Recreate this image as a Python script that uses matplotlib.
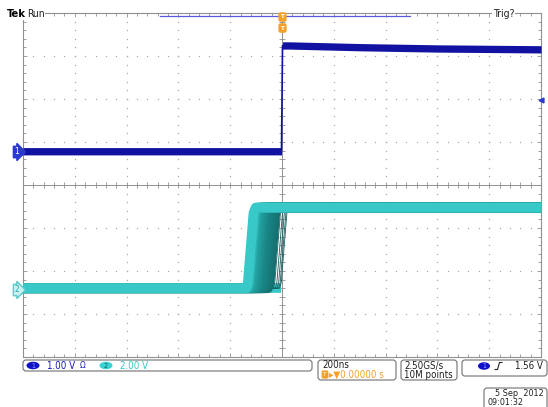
import matplotlib
matplotlib.use("Agg")
import matplotlib.pyplot as plt
from matplotlib.patches import FancyBboxPatch, Ellipse
from matplotlib.colors import LinearSegmentedColormap
import numpy as np

plt.rcParams["font.family"] = ["DejaVu Sans"]
plt.rcParams["font.stretch"] = "condensed"

# ---- 読み取った波形データ ----
# 時間は ns（トリガ位置 = 0）、電圧は V
CH1_T = [-1000, -500, -2, 2, 30, 300, 600, 1000]
CH1_V = [0.0, 0.0, 0.0, 2.46, 2.46, 2.42, 2.39, 2.37]
CH1_VDIV = 1.00      # V/div
CH1_POS = 0.78       # div（グランドマーカー位置）

# CH2 は 1 本分の立ち上がり形状（エッジ開始を 0 とする相対時間）
CH2_SHAPE_T = [-2000, -6, 0, 22, 30, 2000]
CH2_SHAPE_V = [0.0, 0.0, 0.25, 3.5, 3.75, 3.75]
CH2_LOW = 0.0
CH2_VDIV = 2.00
CH2_POS = -2.40
# 残光表示で重なっているエッジの開始時刻（ns）
CH2_EDGES_DENSE = [-132, -126, -120, -114, -108, -102, -96, -90, -84, -78,
                   -72, -66, -60, -54, -48]
CH2_EDGES_SPARSE = [-36, -28, -20, -13, -7, -3]

TIME_DIV = 200  # ns/div

BLUE = "#1212a2"
CYAN = "#38c8c8"
ORANGE = "#f2a12a"
GRID_C = "#a8a8a8"
TXT = "#202020"

fig = plt.figure(figsize=(5.48, 4.07), dpi=100)
W, H = 548, 407
x0, x1, y0, y1 = 23, 541, 13, 357
ax = fig.add_axes([x0 / W, 1 - y1 / H, (x1 - x0) / W, (y1 - y0) / H])
ax.set_xlim(-5 * TIME_DIV, 5 * TIME_DIV)
ax.set_ylim(-4, 4)

# グリッド（点線）と中心十字
xs = np.arange(-5, 5.01, 0.2) * TIME_DIV
ys = np.arange(-4, 4.01, 0.2)
for gx in range(-4, 5):
    if gx != 0:
        ax.plot([gx * TIME_DIV] * len(ys), ys, ls="none", marker="s", ms=0.9,
                color=GRID_C, mew=0)
for gy in range(-3, 4):
    if gy != 0:
        ax.plot(xs, [gy] * len(xs), ls="none", marker="s", ms=0.9,
                color=GRID_C, mew=0)
ax.axhline(0, color="#909090", lw=0.7)
ax.axvline(0, color="#909090", lw=0.7)
ax.plot(xs, [0] * len(xs), ls="none", marker="|", ms=4, mew=0.6, color="#909090")
ax.plot([0] * len(ys), ys, ls="none", marker="_", ms=4, mew=0.6, color="#909090")

ax.set_xticks(np.arange(-5, 5.01, 1) * TIME_DIV)
ax.set_xticks(xs, minor=True)
ax.set_yticks(np.arange(-4, 4.01, 1))
ax.set_yticks(ys, minor=True)
ax.tick_params(which="both", direction="in", top=True, right=True,
               labelbottom=False, labelleft=False, color="#909090", width=0.6)
ax.tick_params(which="major", length=3)
ax.tick_params(which="minor", length=2.5)
for s in ax.spines.values():
    s.set_color("#909090")
    s.set_linewidth(0.8)

# ---- CH1 ----
t1 = np.array(CH1_T, dtype=float)
d1 = np.array(CH1_V) / CH1_VDIV + CH1_POS
ax.fill_between(t1, d1 - 0.08, d1 + 0.09, color=BLUE, lw=0, zorder=5)
ax.plot(t1, d1, color=BLUE, lw=1.2, zorder=5)

# ---- CH2（残光表示） ----
st = np.array(CH2_SHAPE_T, dtype=float)
sv = np.array(CH2_SHAPE_V) / CH2_VDIV + CH2_POS
low_d = CH2_LOW / CH2_VDIV + CH2_POS

# 右側のまばらなエッジ（細線）
for te in CH2_EDGES_SPARSE:
    ax.plot(st + te, sv, color="#1d5f5f", lw=0.6, zorder=4)
# Low レベル帯（最後のエッジまで）
ax.plot([-5 * TIME_DIV, CH2_EDGES_SPARSE[-1]], [low_d, low_d], color=CYAN,
        lw=7, solid_capstyle="butt", zorder=3.5)
# 密なエッジ：右ほど濃い色、左のもの（明るい色）を上に重ねる
cmap = LinearSegmentedColormap.from_list(
    "persist", [(0, CYAN), (0.12, "#24a4a4"), (0.5, "#1a8686"), (1, "#147070")])
n = len(CH2_EDGES_DENSE)
for i in range(n - 1, -1, -1):
    te = CH2_EDGES_DENSE[i]
    ax.plot(st + te, sv, color=cmap(i / (n - 1)), lw=7, zorder=5,
            solid_joinstyle="round", solid_capstyle="butt")

# ---- 画面周りの表示（ピクセル座標のオーバーレイ） ----
ov = fig.add_axes([0, 0, 1, 1])
ov.set_xlim(0, W)
ov.set_ylim(H, 0)
ov.axis("off")
ov.patch.set_alpha(0)

fs = 7
ov.plot([160, 410], [16, 16], color="#5a5ad8", lw=0.9)
ov.text(7, 14, "Tek", fontsize=8, fontweight="bold", va="center", ha="left",
        bbox=dict(fc="white", ec="none", pad=0.5))
ov.text(27, 14, "Run", fontsize=fs + 0.5, va="center", ha="left", color=TXT,
        bbox=dict(fc="white", ec="none", pad=0.5))
ov.text(493, 14, "Trig?", fontsize=fs + 0.5, va="center", ha="left", color=TXT,
        bbox=dict(fc="white", ec="none", pad=0.5))
for yy in (17, 28):
    ov.text(282.5, yy, "T", fontsize=4.5, color="white", ha="center", va="center",
            fontweight="bold",
            bbox=dict(boxstyle="round,pad=0.25", fc=ORANGE, ec=ORANGE))

# チャンネルのグランドマーカー
ov.text(17, 152, "1", fontsize=6, color="white", ha="center", va="center",
        bbox=dict(boxstyle="rarrow,pad=0.15", fc="#2a3ad0", ec="#2a3ad0"))
ov.text(17, 290, "2", fontsize=6, color="#2aa8a8", ha="center", va="center",
        bbox=dict(boxstyle="rarrow,pad=0.15", fc="#c8f2f2", ec="#5cc8c8"))
ov.plot([541], [100], marker="<", ms=3.5, color="#2a3ad0")


def rbox(xa, ya, xb, yb):
    ov.add_patch(FancyBboxPatch((xa, ya), xb - xa, yb - ya,
                                boxstyle="round,pad=0,rounding_size=3",
                                fc="white", ec="#707070", lw=0.8))


rbox(23, 360, 312, 371)
ov.add_patch(Ellipse((33, 365.5), 13, 7.5, fc="#1010c8", ec="none"))
ov.text(33, 365.7, "1", fontsize=5, color="#8fa0ff", ha="center", va="center")
ov.text(47, 365.8, "1.00 V", fontsize=fs, color="#1a1ac0", va="center")
ov.text(80, 365.8, "Ω", fontsize=fs - 1, color="#1a1ac0", va="center")
ov.add_patch(Ellipse((106, 365.5), 13, 7.5, fc="#3ad2d2", ec="none"))
ov.text(106, 365.7, "2", fontsize=5, color="#0a6060", ha="center", va="center")
ov.text(120, 365.8, "2.00 V", fontsize=fs, color="#36c8c8", va="center")

rbox(318, 360, 396, 380)
ov.text(322, 365.5, "200ns", fontsize=fs, color=TXT, va="center")
ov.text(325, 374.5, "T", fontsize=4.5, color="white", ha="center", va="center",
        bbox=dict(boxstyle="round,pad=0.15", fc=ORANGE, ec=ORANGE))
ov.text(329, 374.8, "\u25B8\u25BC0.00000 s", fontsize=fs, color=ORANGE,
        va="center")

rbox(401, 360, 457, 380)
ov.text(404, 365.5, "2.50GS/s", fontsize=fs, color=TXT, va="center")
ov.text(404, 374.8, "10M points", fontsize=fs, color=TXT, va="center")

rbox(462, 360, 547, 376)
ov.add_patch(Ellipse((484, 366), 12, 7.5, fc="#1010c8", ec="none"))
ov.text(484, 366.2, "1", fontsize=5, color="#8fa0ff", ha="center", va="center")
ov.plot([495, 497.5, 499.5, 502], [369.5, 369.5, 362.5, 362.5], color=TXT, lw=0.8)
ov.text(543, 366, "1.56 V", fontsize=fs, color=TXT, ha="right", va="center")

rbox(484, 388, 547, 412)
ov.text(544, 394, "5 Sep  2012", fontsize=6.5, color=TXT, ha="right", va="center")
ov.text(487, 402.5, "09:01:32", fontsize=6.5, color=TXT, ha="left", va="center")

fig.savefig("out.png", dpi=100)
